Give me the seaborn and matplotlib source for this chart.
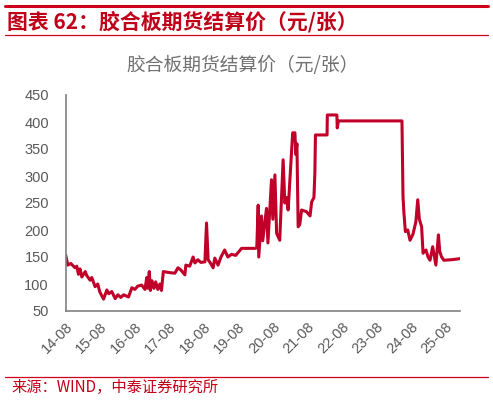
import pandas as pd
import matplotlib
matplotlib.use("Agg")
import matplotlib.pyplot as plt
import matplotlib.dates as mdates
import seaborn as sns

# settlement price (yuan per sheet)
dates = [
    "2014-08-01", "2014-08-25", "2014-09-25", "2014-11-10", "2014-11-28", "2014-12-15",
    "2015-01-01", "2015-01-20", "2015-02-25", "2015-03-12", "2015-04-18", "2015-05-05",
    "2015-06-10", "2015-07-08", "2015-07-28", "2015-09-07", "2015-10-12", "2015-11-01",
    "2015-12-03", "2016-01-08", "2016-02-06", "2016-03-08", "2016-04-06", "2016-05-28",
    "2016-07-03", "2016-08-03", "2016-09-03", "2016-10-15", "2016-11-18", "2016-12-08",
    "2016-12-18", "2017-01-03", "2017-01-15", "2017-02-01", "2017-02-22", "2017-03-12",
    "2017-04-03", "2017-04-25", "2017-05-12", "2017-06-01", "2017-08-10", "2017-10-01",
    "2017-11-03", "2017-12-03", "2018-01-15", "2018-01-25", "2018-03-07", "2018-04-12",
    "2018-05-01", "2018-06-01", "2018-07-03", "2018-08-15", "2018-09-01", "2018-09-18",
    "2018-10-15", "2018-11-10", "2018-11-28", "2019-01-01", "2019-02-01", "2019-03-12",
    "2019-04-15", "2019-05-25", "2019-07-07", "2019-09-07", "2020-01-25", "2020-02-15",
    "2020-03-01", "2020-03-07", "2020-04-05", "2020-04-18", "2020-05-28", "2020-06-12",
    "2020-07-20", "2020-08-03", "2020-08-25", "2020-09-12", "2020-10-15", "2020-11-20",
    "2020-12-08", "2020-12-25", "2021-01-12", "2021-03-01", "2021-03-25", "2021-04-03",
    "2021-04-15", "2021-04-28", "2021-05-15", "2021-06-03", "2021-07-25", "2021-09-01",
    "2021-09-18", "2021-10-12", "2021-10-22", "2021-10-28", "2022-02-28", "2022-03-03",
    "2022-06-12", "2022-06-16", "2022-06-28", "2024-05-01", "2024-05-12", "2024-05-22",
    "2024-06-06", "2024-07-01", "2024-07-25", "2024-08-25", "2024-09-25", "2024-10-15",
    "2024-11-01", "2024-11-25", "2024-12-10", "2025-01-10", "2025-02-01", "2025-02-22",
    "2025-03-22", "2025-04-25", "2025-05-22", "2025-06-05", "2025-06-25", "2025-07-18",
    "2025-10-12", "2026-01-05",
]
prices = [
    154, 135, 138, 130, 133, 118,
    128, 113, 123, 116, 107, 112,
    95, 100, 86, 72, 89, 82,
    86, 73, 80, 75, 80, 76,
    93, 90, 96, 98, 90, 112,
    92, 123, 88, 106, 92, 104,
    90, 100, 88, 123, 121, 120,
    130, 126, 117, 135, 133, 150,
    139, 145, 140, 141, 213, 145,
    138, 130, 148, 135, 150, 163,
    150, 155, 153, 166, 166, 167,
    246, 150, 226, 180, 240, 176,
    293, 220, 302, 194, 181, 330,
    250, 260, 237, 380, 380, 340,
    360, 206, 210, 237, 234, 226,
    252, 260, 305, 376, 376, 413,
    413, 389, 402, 402, 262, 231,
    197, 200, 181, 192, 215, 256,
    220, 206, 157, 163, 150, 144,
    169, 135, 191, 160, 150, 144,
    145, 147,
]
year_ticks = ["2014-08-01", "2015-08-01", "2016-08-01", "2017-08-01", "2018-08-01", "2019-08-01",
              "2020-08-01", "2021-08-01", "2022-08-01", "2023-08-01", "2024-08-01", "2025-08-01"]

df = pd.DataFrame({"date": pd.to_datetime(dates), "price": prices})

sns.set_style("white")
plt.rcParams["font.family"] = ["Noto Sans CJK SC", "DejaVu Sans"]

red = "#C00028"
grey = "#595959"

fig = plt.figure(figsize=(4.93, 4.0), dpi=100)
ax = fig.add_axes([0.133, 0.2225, 0.80, 0.54])

sns.lineplot(data=df, x="date", y="price", color=red, linewidth=2.2, ax=ax)

ax.set_xlim(pd.Timestamp("2014-08-01"), pd.Timestamp("2026-01-05"))
ax.set_ylim(50, 450)
ax.set_yticks(range(50, 451, 50))
ax.set_xticks(pd.to_datetime(year_ticks))
ax.xaxis.set_major_formatter(mdates.DateFormatter("%y-%m"))
ax.set_xlabel("")
ax.set_ylabel("")

for s in ["top", "right"]:
    ax.spines[s].set_visible(False)
for s in ["left", "bottom"]:
    ax.spines[s].set_color("#808080")
    ax.spines[s].set_linewidth(1.2)

ax.tick_params(axis="both", which="major", direction="out", length=4, width=1.2,
               color="#808080", labelcolor=grey, labelsize=10.5, pad=2)
ax.tick_params(axis="y", pad=8)
for lbl in ax.get_xticklabels():
    lbl.set_rotation(45)
    lbl.set_ha("right")
    lbl.set_rotation_mode("anchor")
    lbl.set_family(["Liberation Sans", "DejaVu Sans"])
for lbl in ax.get_yticklabels():
    lbl.set_family(["Liberation Sans", "DejaVu Sans"])

# header and footer
fig.add_artist(plt.Line2D([0.01, 0.99], [0.985, 0.985], color="#D0021B", linewidth=2.2))
fig.text(0.015, 0.946, "图表 62：胶合板期货结算价（元/张）", color="#C00018",
         fontsize=15, fontweight="bold", va="center", ha="left")
fig.add_artist(plt.Line2D([0.01, 0.99], [0.912, 0.912], color="#D0021B", linewidth=0.9))
fig.text(0.493, 0.835, "胶合板期货结算价（元/张）", color="#707070", fontsize=13.5,
         va="center", ha="center")
fig.add_artist(plt.Line2D([0.01, 0.99], [0.057, 0.057], color="#D0021B", linewidth=0.9))
fig.text(0.024, 0.032, "来源：WIND，中泰证券研究所", color="#C00018", fontsize=11,
         va="center", ha="left")

fig.savefig("out.png", dpi=100)
